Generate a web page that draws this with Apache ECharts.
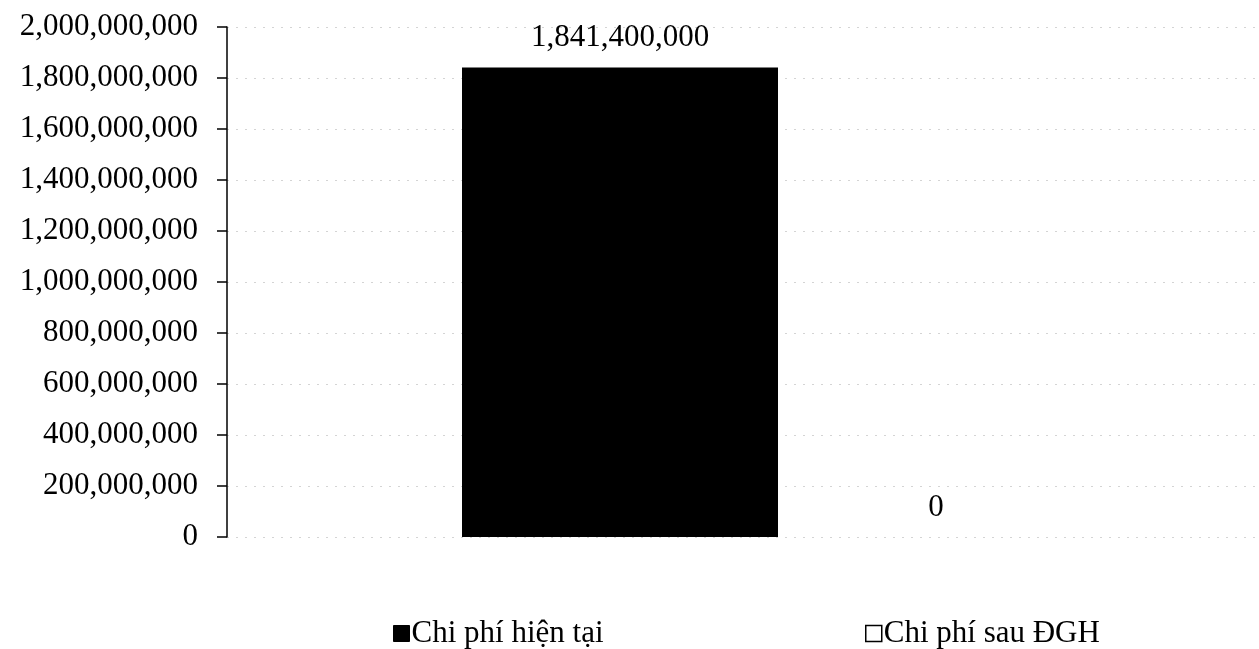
<!DOCTYPE html>
<html>
<head>
<meta charset="utf-8">
<script src="https://cdn.jsdelivr.net/npm/echarts@6/dist/echarts.min.js"></script>
<style>
html,body{margin:0;padding:0;background:#fff;}
#chart{width:1259px;height:649px;}
</style>
</head>
<body>
<div id="chart"></div>
<script>
const categories = [''];
const seriesNames = ['Chi phí hiện tại', 'Chi phí sau ĐGH'];
const currentCost = [1841400000];
const afterCost = [0];
const yMin = 0, yMax = 2000000000, yStep = 200000000;

const fmt = v => Number(v).toLocaleString('en-US');
const FONT = '"Liberation Serif", "DejaVu Serif", serif';
const FS = 31;

const chart = echarts.init(document.getElementById('chart'));
chart.setOption({
  animation: false,
  backgroundColor: '#fff',
  grid: { left: 227, right: -70, top: 27, bottom: 112, containLabel: false, outerBoundsMode: 'none' },
  legend: [
    {
      data: [{ name: seriesNames[0], itemStyle: { color: '#000', borderColor: '#000', borderWidth: 1 } }],
      left: 388, top: 613, itemWidth: 16, itemHeight: 16, itemGap: 4,
      icon: 'rect',
      textStyle: { fontFamily: FONT, fontSize: FS, color: '#000', padding: [0, 0, 0, -3] }
    },
    {
      data: [{ name: seriesNames[1], itemStyle: { color: '#fff', borderColor: '#000', borderWidth: 1.5 } }],
      left: 860, top: 613, itemWidth: 16, itemHeight: 16, itemGap: 4,
      icon: 'rect',
      textStyle: { fontFamily: FONT, fontSize: FS, color: '#000', padding: [0, 0, 0, -3] }
    }
  ],
  xAxis: {
    type: 'category',
    data: categories,
    axisLine: { show: false },
    axisTick: { show: false },
    axisLabel: { show: false }
  },
  yAxis: {
    type: 'value',
    min: yMin, max: yMax, interval: yStep,
    axisLine: { show: true, lineStyle: { color: '#000', width: 1.5 } },
    axisTick: { show: true, length: 10, lineStyle: { color: '#000', width: 1.5 } },
    axisLabel: { margin: 29, color: '#000', fontFamily: FONT, fontSize: FS, formatter: fmt },
    splitLine: { show: true, lineStyle: { color: '#d4d4d4', type: [2, 7], width: 1 } }
  },
  series: [
    {
      name: seriesNames[0], type: 'bar', data: currentCost,
      barWidth: 316, barGap: '0%',
      itemStyle: { color: '#000' },
      label: { show: true, position: 'top', distance: 14, color: '#000', fontFamily: FONT, fontSize: FS, formatter: p => fmt(p.value) }
    },
    {
      name: seriesNames[1], type: 'bar', data: afterCost,
      barWidth: 316, barGap: '0%',
      itemStyle: { color: '#fff' },
      label: { show: true, position: 'top', distance: 14, color: '#000', fontFamily: FONT, fontSize: FS, formatter: p => fmt(p.value) }
    }
  ]
});
</script>
</body>
</html>
